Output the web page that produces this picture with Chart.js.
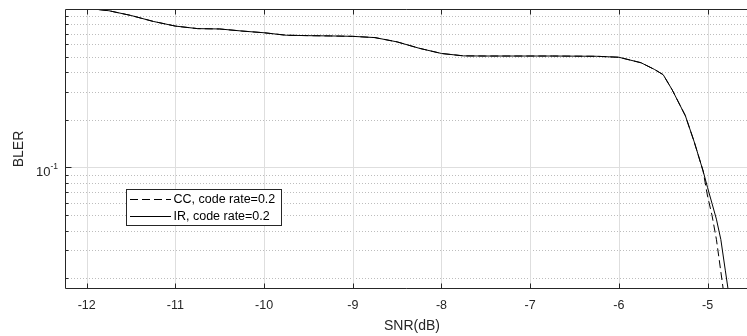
<!DOCTYPE html>
<html>
<head>
<meta charset="utf-8">
<script src="https://cdn.jsdelivr.net/npm/chart.js@4.4.1/dist/chart.umd.min.js"></script>
<style>
  html, body { margin: 0; padding: 0; background: #fff; }
  #wrap { width: 747px; height: 336px; }
</style>
</head>
<body>
<div id="wrap"><canvas id="bler-chart"></canvas></div>
<script>
// values
const snr = [-12, -11.9, -11.75, -11.5, -11.25, -11, -10.75, -10.5, -10.25, -10, -9.75, -9.5, -9.25, -9,
  -8.75, -8.5, -8.25, -8, -7.75, -7.5, -7.25, -7, -6.75, -6.5, -6.25, -6, -5.75, -5.6, -5.5, -5.4, -5.25, -5.15, -5.05,
  -5, -4.95, -4.9, -4.85, -4.8, -4.75];
const blerIR = [1.0, 0.997, 0.975, 0.91, 0.835, 0.78, 0.752, 0.748, 0.726, 0.708, 0.683, 0.679, 0.676, 0.672,
  0.66, 0.62, 0.565, 0.524, 0.506, 0.505, 0.505, 0.505, 0.505, 0.504, 0.503, 0.496, 0.458, 0.416, 0.385, 0.31, 0.212, 0.145, 0.095,
  0.0747, 0.0594, 0.0472, 0.0351, 0.0225, 0.0145];
const blerCC = [1.0, 0.997, 0.975, 0.91, 0.835, 0.78, 0.752, 0.748, 0.726, 0.708, 0.683, 0.679, 0.676, 0.672,
  0.66, 0.62, 0.565, 0.524, 0.506, 0.505, 0.505, 0.505, 0.505, 0.504, 0.503, 0.496, 0.458, 0.416, 0.385, 0.31, 0.212, 0.145, 0.095,
  0.066, 0.050, 0.0352, 0.022, 0.0137, 0.0088];
const seriesNames = ['CC, code rate=0.2', 'IR, code rate=0.2'];
const xTicks = [-12, -11, -10, -9, -8, -7, -6, -5];
const yMajor = [0.1];
const yMinor = [0.02, 0.03, 0.04, 0.05, 0.06, 0.07, 0.08, 0.09, 0.2, 0.3, 0.4, 0.5, 0.6, 0.7, 0.8, 0.9];

const FONT = '"Liberation Sans", Arial, Helvetica, sans-serif';
const AXIS = '#262626';

function seg(ctx, x1, y1, x2, y2) {
    ctx.beginPath();
    ctx.moveTo(x1, y1);
    ctx.lineTo(x2, y2);
    ctx.stroke();
}

const matlabAxes = {
    id: 'matlabAxes',
    beforeDatasetsDraw(chart) {
        const { ctx, chartArea: a, scales: { x, y } } = chart;
        ctx.save();
        ctx.lineWidth = 1;
        // minor grid, dotted
        ctx.strokeStyle = '#bdbdbd';
        ctx.setLineDash([1, 2]);
        yMinor.forEach(v => {
            const py = Math.round(y.getPixelForValue(v)) + 0.5;
            seg(ctx, a.left, py, a.right, py);
        });
        // major grid
        ctx.setLineDash([]);
        ctx.strokeStyle = '#dedede';
        xTicks.forEach(v => {
            const px = Math.round(x.getPixelForValue(v)) + 0.5;
            seg(ctx, px, a.top, px, a.bottom);
        });
        yMajor.forEach(v => {
            const py = Math.round(y.getPixelForValue(v)) + 0.5;
            seg(ctx, a.left, py, a.right, py);
        });
        ctx.restore();
    },
    afterDraw(chart) {
        const { ctx, chartArea: a, scales: { x, y } } = chart;
        const L = Math.round(a.left) + 0.5, T = Math.round(a.top) + 0.5, B = Math.round(a.bottom) - 0.5;
        ctx.save();
        ctx.strokeStyle = AXIS;
        ctx.lineWidth = 1;
        // box (right side is cut off in the picture)
        seg(ctx, L, T, a.right, T);
        seg(ctx, L, T, L, B);
        seg(ctx, L, B, a.right, B);
        // tick marks
        xTicks.forEach(v => {
            const px = Math.round(x.getPixelForValue(v)) + 0.5;
            seg(ctx, px, T, px, T + 5);
            seg(ctx, px, B, px, B - 5);
        });
        yMajor.forEach(v => {
            const py = Math.round(y.getPixelForValue(v)) + 0.5;
            seg(ctx, L, py, L + 6, py);
        });
        yMinor.forEach(v => {
            const py = Math.round(y.getPixelForValue(v)) + 0.5;
            seg(ctx, L, py, L + 3, py);
        });

        // y tick label 10^-1
        ctx.fillStyle = AXIS;
        ctx.textBaseline = 'alphabetic';
        yMajor.forEach(v => {
            const py = y.getPixelForValue(v);
            ctx.font = '8.5px ' + FONT;
            ctx.textAlign = 'right';
            const expW = ctx.measureText('-1').width;
            ctx.fillText('-1', a.left - 7, py + 2);
            ctx.font = '13px ' + FONT;
            ctx.fillText('10', a.left - 7 - expW, py + 9);
        });

        // axis titles
        ctx.font = '14px ' + FONT;
        ctx.textAlign = 'center';
        ctx.textBaseline = 'middle';
        ctx.fillText('SNR(dB)', 412, 326);
        ctx.save();
        ctx.translate(19, (a.top + a.bottom) / 2);
        ctx.rotate(-Math.PI / 2);
        ctx.fillText('BLER', 0, 0);
        ctx.restore();

        // legend
        const lx = 126.5, ly = 189.5, lw = 155, lh = 36;
        ctx.fillStyle = '#fff';
        ctx.fillRect(lx, ly, lw, lh);
        ctx.strokeRect(lx, ly, lw, lh);
        ctx.strokeStyle = '#000';
        ctx.setLineDash([8, 4]);
        seg(ctx, 130, 199.5, 171, 199.5);
        ctx.setLineDash([]);
        seg(ctx, 130, 216.5, 171, 216.5);
        ctx.fillStyle = '#000';
        ctx.font = '12.5px ' + FONT;
        ctx.textAlign = 'left';
        ctx.fillText(seriesNames[0], 173.5, 200);
        ctx.fillText(seriesNames[1], 173.5, 217);
        ctx.restore();
    }
};

const ctx = document.getElementById('bler-chart');
new Chart(ctx, {
    type: 'line',
    data: {
        datasets: [
            {
                label: seriesNames[0],
                data: snr.map((v, i) => ({ x: v, y: blerCC[i] })),
                borderColor: '#000',
                borderWidth: 1,
                borderDash: [8, 4],
                pointRadius: 0,
                tension: 0
            },
            {
                label: seriesNames[1],
                data: snr.map((v, i) => ({ x: v, y: blerIR[i] })),
                borderColor: '#000',
                borderWidth: 1,
                pointRadius: 0,
                tension: 0
            }
        ]
    },
    options: {
        responsive: true,
        maintainAspectRatio: false,
        animation: false,
        layout: { padding: { top: 9, left: 0, right: 0, bottom: 0 } },
        plugins: { legend: { display: false }, tooltip: { enabled: false } },
        scales: {
            x: {
                type: 'linear',
                min: -12.245,
                max: -4.555,
                afterBuildTicks: scale => { scale.ticks = xTicks.map(v => ({ value: v })); },
                afterFit: scale => { scale.height = 47; },
                grid: { display: false, drawTicks: false },
                border: { display: false },
                ticks: {
                    padding: 9,
                    color: AXIS,
                    font: { family: FONT, size: 12.5 },
                    maxRotation: 0
                }
            },
            y: {
                type: 'logarithmic',
                min: 0.0171,
                max: 1,
                afterFit: scale => { scale.width = 65; },
                grid: { display: false },
                border: { display: false },
                ticks: { display: false }
            }
        }
    },
    plugins: [matlabAxes]
});
</script>
</body>
</html>
